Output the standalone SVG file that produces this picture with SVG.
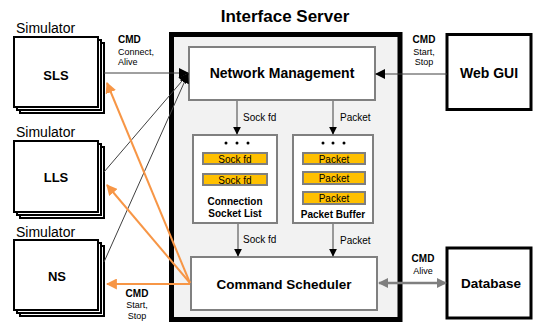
<svg xmlns="http://www.w3.org/2000/svg" width="534" height="324" viewBox="0 0 534 324">
<style>
text{font-family:"Liberation Sans",Arial,sans-serif;fill:#000}
.b{font-weight:bold}
.c{text-anchor:middle}
.sim{fill:#fff;stroke:#000;stroke-width:2}
.box{fill:#fff;stroke:#808080;stroke-width:2}
.bar{fill:#ffc000;stroke:#7f7f7f;stroke-width:2}
.ext{fill:#fff;stroke:#000;stroke-width:3}
.blk{stroke:#404040;stroke-width:1;fill:none}
.org{stroke:#f79646;stroke-width:2;fill:none}
.gry{stroke:#7f7f7f;stroke-width:2.5;fill:none}
.dot{fill:#000}
.s9{font-size:9px}
.s10{font-size:10px}
</style>
<defs>
<marker id="ab" viewBox="0 0 10 10" refX="9" refY="5" markerWidth="8" markerHeight="8" markerUnits="userSpaceOnUse" orient="auto"><path d="M0,0 L10,5 L0,10 z" fill="#000"/></marker>
<marker id="ab2" viewBox="0 0 10 10" refX="9" refY="5" markerWidth="10" markerHeight="10" markerUnits="userSpaceOnUse" orient="auto"><path d="M0,0 L10,5 L0,10 z" fill="#000"/></marker>
<marker id="ao" viewBox="0 0 10 10" refX="9" refY="5" markerWidth="11" markerHeight="11" markerUnits="userSpaceOnUse" orient="auto"><path d="M0,0 L10,5 L0,10 z" fill="#f79646"/></marker>
<marker id="ag" viewBox="0 0 10 10" refX="9" refY="5" markerWidth="10" markerHeight="10" markerUnits="userSpaceOnUse" orient="auto-start-reverse"><path d="M0,0 L10,5 L0,10 z" fill="#7f7f7f"/></marker>
</defs>

<g id="interface-server">
<rect x="171.5" y="34.5" width="228.5" height="285" fill="#f2f2f2" stroke="#000" stroke-width="5"/>
<text class="b c" x="285" y="22" font-size="17">Interface Server</text>
</g>

<g id="sim-sls">
<text x="16" y="33" font-size="14">Simulator</text>
<rect class="sim" x="20" y="43" width="84" height="70"/>
<rect class="sim" x="17" y="40" width="84" height="70"/>
<rect class="sim" x="14" y="37" width="84" height="70"/>
<text class="b c" x="56" y="80" font-size="13">SLS</text>
</g>

<g id="sim-lls">
<text x="16" y="137" font-size="14">Simulator</text>
<rect class="sim" x="20" y="147" width="84" height="71"/>
<rect class="sim" x="17" y="144" width="84" height="71"/>
<rect class="sim" x="14" y="141" width="84" height="71"/>
<text class="b c" x="56" y="182" font-size="13">LLS</text>
</g>

<g id="sim-ns">
<text x="16" y="237" font-size="14">Simulator</text>
<rect class="sim" x="20" y="246" width="84" height="70"/>
<rect class="sim" x="17" y="243" width="84" height="70"/>
<rect class="sim" x="14" y="240" width="84" height="70"/>
<text class="b c" x="57" y="281" font-size="13">NS</text>
</g>

<g id="network-management">
<rect class="box" x="189" y="47" width="186" height="53"/>
<text class="b c" x="282" y="78" font-size="14">Network Management</text>
</g>

<g id="connection-socket-list">
<rect class="box" x="193" y="135" width="84" height="88"/>
<circle class="dot" cx="226" cy="143" r="1.5"/>
<circle class="dot" cx="237" cy="143" r="1.5"/>
<circle class="dot" cx="248" cy="143" r="1.5"/>
<rect class="bar" x="203" y="153" width="64" height="11"/>
<text class="c" x="235" y="162.5" font-size="10" fill="#333">Sock fd</text>
<rect class="bar" x="203" y="174" width="64" height="11"/>
<text class="c" x="235" y="183.5" font-size="10" fill="#333">Sock fd</text>
<text class="b c s10" x="235" y="205">Connection</text>
<text class="b c s10" x="235" y="217">Socket List</text>
</g>

<g id="packet-buffer">
<rect class="box" x="293" y="135" width="80" height="88"/>
<circle class="dot" cx="323" cy="143" r="1.5"/>
<circle class="dot" cx="333" cy="143" r="1.5"/>
<circle class="dot" cx="344" cy="143" r="1.5"/>
<rect class="bar" x="303" y="153" width="62" height="11"/>
<text class="c" x="334" y="162.5" font-size="10" fill="#333">Packet</text>
<rect class="bar" x="303" y="172" width="62" height="12"/>
<text class="c" x="334" y="182" font-size="10" fill="#333">Packet</text>
<rect class="bar" x="303" y="192" width="62" height="12"/>
<text class="c" x="334" y="202" font-size="10" fill="#333">Packet</text>
<text class="b c s10" x="333" y="218">Packet Buffer</text>
</g>

<g id="command-scheduler">
<rect class="box" x="191" y="257" width="186" height="53"/>
<text class="b c" x="284" y="289" font-size="13.5">Command Scheduler</text>
</g>

<g id="web-gui">
<rect class="ext" x="447" y="34.5" width="84" height="75"/>
<text class="b c" x="489" y="78" font-size="14">Web GUI</text>
</g>

<g id="database">
<rect class="ext" x="447" y="248" width="84" height="70"/>
<text class="b c" x="491" y="288" font-size="13.5">Database</text>
</g>

<g id="connectors">
<line class="blk" x1="104" y1="73" x2="188" y2="73" marker-end="url(#ab2)"/>
<line class="blk" x1="104" y1="172" x2="188" y2="74" marker-end="url(#ab2)"/>
<line class="blk" x1="104" y1="262" x2="188" y2="74" marker-end="url(#ab2)"/>
<line class="blk" x1="447" y1="74" x2="376" y2="74" marker-end="url(#ab2)"/>

<line class="blk" x1="237" y1="101" x2="237" y2="134" marker-end="url(#ab)"/>
<line class="blk" x1="333" y1="101" x2="333" y2="134" marker-end="url(#ab)"/>
<line class="blk" x1="238" y1="224" x2="238" y2="256" marker-end="url(#ab)"/>
<line class="blk" x1="333" y1="224" x2="333" y2="256" marker-end="url(#ab)"/>

<line class="org" x1="190" y1="283" x2="107" y2="83" marker-end="url(#ao)"/>
<line class="org" x1="190" y1="283" x2="107" y2="185" marker-end="url(#ao)"/>
<line class="org" x1="190" y1="284" x2="107" y2="284" marker-end="url(#ao)"/>

<line class="gry" x1="379" y1="283" x2="446" y2="283" marker-start="url(#ag)" marker-end="url(#ag)"/>

<text class="s10" x="243" y="121" font-size="10.5">Sock fd</text>
<text class="s10" x="340" y="121" font-size="10.5">Packet</text>
<text class="s10" x="243" y="243" font-size="10.5">Sock fd</text>
<text class="s10" x="340" y="244" font-size="10.5">Packet</text>

<text class="b s10" x="118" y="43">CMD</text>
<text class="s9" x="118" y="55">Connect,</text>
<text class="s9" x="118" y="65">Alive</text>

<text class="b c s10" x="424" y="43">CMD</text>
<text class="c s9" x="424" y="55">Start,</text>
<text class="c s9" x="424" y="65">Stop</text>

<text class="b c s10" x="423" y="262">CMD</text>
<text class="c s9" x="423" y="274">Alive</text>

<text class="b c s10" x="137" y="297">CMD</text>
<text class="c s9" x="137" y="308">Start,</text>
<text class="c s9" x="137" y="319">Stop</text>
</g>
</svg>
